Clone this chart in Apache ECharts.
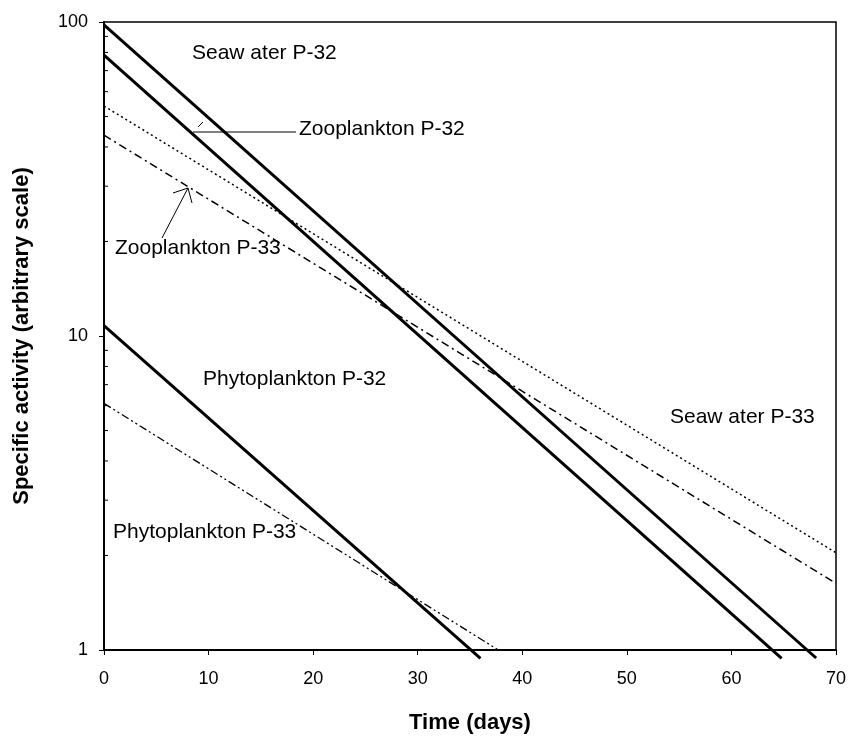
<!DOCTYPE html>
<html>
<head>
<meta charset="utf-8">
<script src="https://cdn.jsdelivr.net/npm/echarts@6/dist/echarts.min.js"></script>
<style>
html, body { margin: 0; padding: 0; background: #fff; }
#chart { width: 853px; height: 740px; }
</style>
</head>
<body>
<div id="chart"></div>
<script>
// decay lines, [day, specific activity]
const seawaterP32 = [[0, 98], [68.1, 0.943]]
const zooplanktonP32 = [[0, 78.5], [64.8, 0.94]]
const phytoplanktonP32 = [[0, 10.8], [36.0, 0.94]]
const seawaterP33 = [[0, 54], [70, 2.04]]
const zooplanktonP33 = [[0, 43.6], [70, 1.63]]
const phytoplanktonP33 = [[0, 6.1], [37.7, 1.0]]

const xTicks = [0, 10, 20, 30, 40, 50, 60, 70]
const yMinorTicks = [2, 3, 4, 5, 6, 7, 8, 9, 20, 30, 40, 50, 60, 70, 80, 90]

const FONT = '"Liberation Sans", Arial, sans-serif'
const labelFont = '21px ' + FONT

function lineSeries (name, data, width, type) {
  return {
    name: name,
    type: 'line',
    data: data,
    symbol: 'none',
    clip: false,
    silent: true,
    lineStyle: { color: '#000', width: width, type: type }
  }
}

const chart = echarts.init(document.getElementById('chart'))
chart.setOption({
  animation: false,
  backgroundColor: '#fff',
  grid: {
    left: 104, right: 17, top: 22, bottom: 90,
    show: true, borderColor: '#000', borderWidth: 1.5
  },
  xAxis: {
    type: 'value',
    min: xTicks[0],
    max: xTicks[xTicks.length - 1],
    interval: 10,
    name: 'Time (days)',
    nameLocation: 'middle',
    nameGap: 62,
    nameTextStyle: { fontFamily: FONT, fontSize: 22, fontWeight: 'bold', color: '#000' },
    axisLine: { lineStyle: { color: '#000', width: 2 } },
    axisTick: { show: true, length: 5, lineStyle: { color: '#000' } },
    axisLabel: { fontFamily: FONT, fontSize: 18, color: '#000', margin: 20 },
    splitLine: { show: false }
  },
  yAxis: {
    type: 'log',
    logBase: 10,
    min: 1,
    max: 100,
    name: 'Specific activity (arbitrary scale)',
    nameLocation: 'middle',
    nameGap: 71,
    nameTextStyle: { fontFamily: FONT, fontSize: 22, fontWeight: 'bold', color: '#000' },
    axisLine: { show: true, lineStyle: { color: '#000', width: 2 } },
    axisTick: { show: true, length: 5, lineStyle: { color: '#000' } },
    axisLabel: { fontFamily: FONT, fontSize: 18, color: '#000', margin: 16 },
    splitLine: { show: false }
  },
  series: [
    lineSeries('Seawater P-32', seawaterP32, 3, 'solid'),
    lineSeries('Zooplankton P-32', zooplanktonP32, 3, 'solid'),
    lineSeries('Phytoplankton P-32', phytoplanktonP32, 3, 'solid'),
    lineSeries('Seawater P-33', seawaterP33, 1.5, [2, 3]),
    lineSeries('Zooplankton P-33', zooplanktonP33, 1.5, [8, 4, 2, 4]),
    lineSeries('Phytoplankton P-33', phytoplanktonP33, 1.3, [8, 3, 2, 3, 2, 3]),
    { // minor ticks on the log axis at 2..9 of each decade
      type: 'custom',
      silent: true,
      data: yMinorTicks.map(v => [0, v]),
      renderItem: function (params, api) {
        const p = api.coord([0, api.value(1)])
        return {
          type: 'line',
          shape: { x1: p[0], y1: p[1], x2: p[0] + 4, y2: p[1] },
          style: { stroke: '#000', lineWidth: 1 }
        }
      }
    }
  ],
  graphic: [
    { type: 'text', x: 192, y: 53, style: { text: 'Seaw ater P-32', font: labelFont, fill: '#000', textVerticalAlign: 'middle' } },
    { type: 'text', x: 299, y: 129, style: { text: 'Zooplankton P-32', font: labelFont, fill: '#000', textVerticalAlign: 'middle' } },
    { type: 'text', x: 115, y: 248, style: { text: 'Zooplankton P-33', font: labelFont, fill: '#000', textVerticalAlign: 'middle' } },
    { type: 'text', x: 203, y: 379, style: { text: 'Phytoplankton P-32', font: labelFont, fill: '#000', textVerticalAlign: 'middle' } },
    { type: 'text', x: 670, y: 417, style: { text: 'Seaw ater P-33', font: labelFont, fill: '#000', textVerticalAlign: 'middle' } },
    { type: 'text', x: 113, y: 532, style: { text: 'Phytoplankton P-33', font: labelFont, fill: '#000', textVerticalAlign: 'middle' } },
    // leader line to Zooplankton P-32
    { type: 'line', shape: { x1: 193, y1: 132, x2: 296, y2: 132 }, style: { stroke: '#000', lineWidth: 1 } },
    { type: 'line', shape: { x1: 198, y1: 127, x2: 203, y2: 122 }, style: { stroke: '#000', lineWidth: 1 } },
    // arrow to Zooplankton P-33
    { type: 'line', shape: { x1: 162, y1: 238, x2: 188, y2: 188 }, style: { stroke: '#000', lineWidth: 1 } },
    { type: 'polyline', shape: { points: [[173, 193], [188, 188], [192, 203]] }, style: { stroke: '#000', fill: null, lineWidth: 1 } }
  ]
})
</script>
</body>
</html>
